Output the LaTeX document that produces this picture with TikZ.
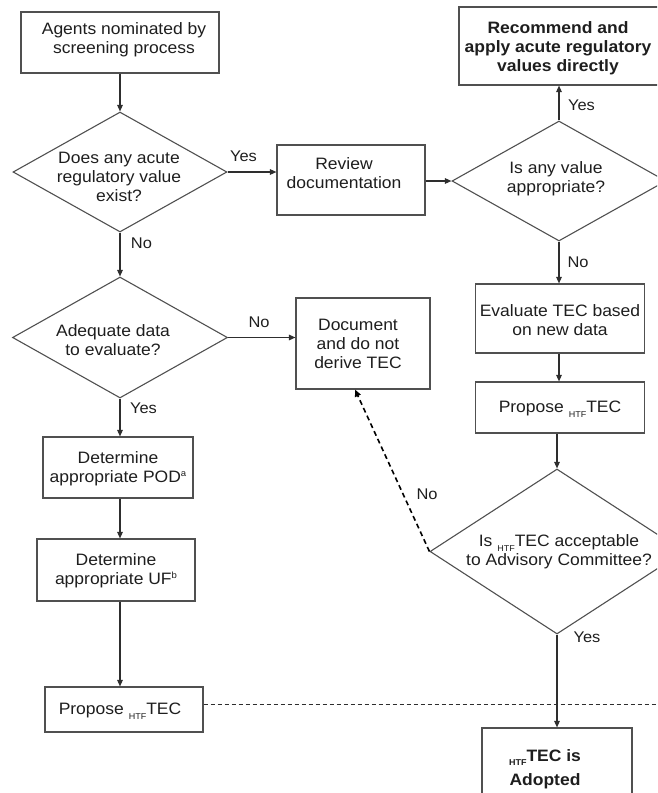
\documentclass[tikz,border=0pt]{standalone}
\usepackage{fontspec}
\setmainfont{Liberation Sans}[FakeStretch=1.06]
\usetikzlibrary{arrows.meta,shapes.geometric,calc}
\definecolor{linec}{HTML}{2E2E2E}
\definecolor{boxc}{HTML}{505050}
\definecolor{txtc}{HTML}{1E1E1E}
\newcommand{\mainsz}{\fontsize{16.5}{19}\selectfont}
\newcommand{\labsz}{\fontsize{15.5}{18}\selectfont}
\newcommand{\htf}{\raisebox{-4.5pt}{\fontsize{8.5}{9}\selectfont HTF}}
\newcommand{\supsm}[1]{\raisebox{6pt}{\fontsize{9}{9}\selectfont #1}}
\begin{document}
\begin{tikzpicture}[x=1pt,y=-1pt,
  every node/.style={text=txtc},
  box/.style={draw=boxc,line width=1.1pt,rectangle,inner sep=0pt,fill=white},
  dia/.style={draw=boxc,line width=1.1pt,diamond,inner sep=0pt},
  txt/.style={align=center,inner sep=0pt,font=\mainsz},
  btxt/.style={align=center,inner sep=0pt,font=\mainsz\bfseries},
  lab/.style={inner sep=0pt,font=\labsz},
  arr/.style={draw=linec,line width=1.3pt,-{Triangle[length=6.5pt,width=5.5pt]}},
  noarr/.style={draw=black,line width=1.6pt,dash pattern=on 5pt off 3.5pt,-{Triangle[length=7pt,width=6pt]}},
  sep/.style={draw=linec,line width=0.9pt,dash pattern=on 4pt off 3pt}
  ]
\useasboundingbox (0,0) rectangle (657,793);
\clip (0,0) rectangle (657,793);

% left column
\node[box,minimum width=198pt,minimum height=61pt] (agents) at (120,42.5) {};
\node[txt] at (124,40) {Agents nominated by\\screening process};

\node[dia,minimum width=214pt,minimum height=120pt] (d1) at (120,172) {};
\node[txt] at (119,177) {Does any acute\\regulatory value\\exist?};

\node[dia,minimum width=215pt,minimum height=121pt] (d4) at (120,337.5) {};
\node[txt] at (113,340) {Adequate data\\to evaluate?};

\node[box,minimum width=150pt,minimum height=61pt] (pod) at (118,467.5) {};
\node[txt] at (118,469) {Determine\\appropriate POD\supsm{a}};

\node[box,minimum width=158pt,minimum height=62pt] (uf) at (116,570) {};
\node[txt] at (116,571) {Determine\\appropriate UF\supsm{b}};

\node[box,minimum width=158pt,minimum height=45pt] (proposeL) at (124,709.5) {};
\node[txt] at (120,711) {Propose \htf TEC};

% middle column
\node[box,minimum width=148pt,minimum height=70pt] (review) at (351,180) {};
\node[txt] at (344,173) {Review\\documentation};

\node[box,minimum width=134pt,minimum height=91pt] (document) at (363,343.5) {};
\node[txt] at (358,344) {Document\\and do not\\derive TEC};

% right column
\node[box,minimum width=200pt,minimum height=78pt] (recommend) at (559,46) {};
\node[btxt] at (558,48) {Recommend and\\apply acute regulatory\\values directly};

\node[dia,minimum width=214pt,minimum height=120pt] (d2) at (559,181) {};
\node[txt] at (556,179) {Is any value\\appropriate?};

\node[box,minimum width=169pt,minimum height=69pt] (evaluate) at (560,318.5) {};
\node[txt] at (560,320) {Evaluate TEC based\\on new data};

\node[box,minimum width=169pt,minimum height=51pt] (proposeR) at (560,407.5) {};
\node[txt] at (560,409) {Propose \htf TEC};

\node[dia,minimum width=254pt,minimum height=165pt] (d3) at (557,551.5) {};
\node[txt] at (559,552) {Is \htf TEC acceptable\\to Advisory Committee?};

\node[box,minimum width=150pt,minimum height=84pt] (adopted) at (557,770) {};
\node[btxt,font=\fontsize{16.5}{24}\selectfont\bfseries] at (545,769) {\htf TEC is\\Adopted};

% connectors
\draw[arr] (agents.south -| d1.north) -- (d1.north);
\draw[arr] (d1.east) -- (d1.east -| review.west);
\node[lab] at (243.5,156) {Yes};
\draw[arr] (d1.south) -- (d4.north);
\node[lab] at (141.5,243) {No};
\draw[arr] (review.east |- d2.west) -- (d2.west);
\draw[arr] (d2.north) -- (d2.north |- recommend.south);
\node[lab] at (581.5,105) {Yes};
\draw[arr] (d2.south) -- (d2.south |- evaluate.north);
\node[lab] at (578,262) {No};
\draw[arr] (d2.south |- evaluate.south) -- (d2.south |- proposeR.north);
\draw[arr] (d3.north |- proposeR.south) -- (d3.north);
\draw[arr] (d3.south) -- (d3.south |- adopted.north);
\node[lab] at (587,637) {Yes};
\draw[arr] (d4.east) -- (d4.east -| document.west);
\node[lab] at (259,322) {No};
\draw[arr] (d4.south) -- (d4.south |- pod.north);
\node[lab] at (143.5,408) {Yes};
\draw[arr] (d4.south |- pod.south) -- (d4.south |- uf.north);
\draw[arr] (d4.south |- uf.south) -- (d4.south |- proposeL.north);
\draw[noarr] (d3.west) -- ($(document.south)+(-8,0)$);
\node[lab] at (427,494) {No};
\coordinate (sepend) at (660,704);
\draw[sep] (proposeL.east |- sepend) -- (sepend);
\end{tikzpicture}
\end{document}
